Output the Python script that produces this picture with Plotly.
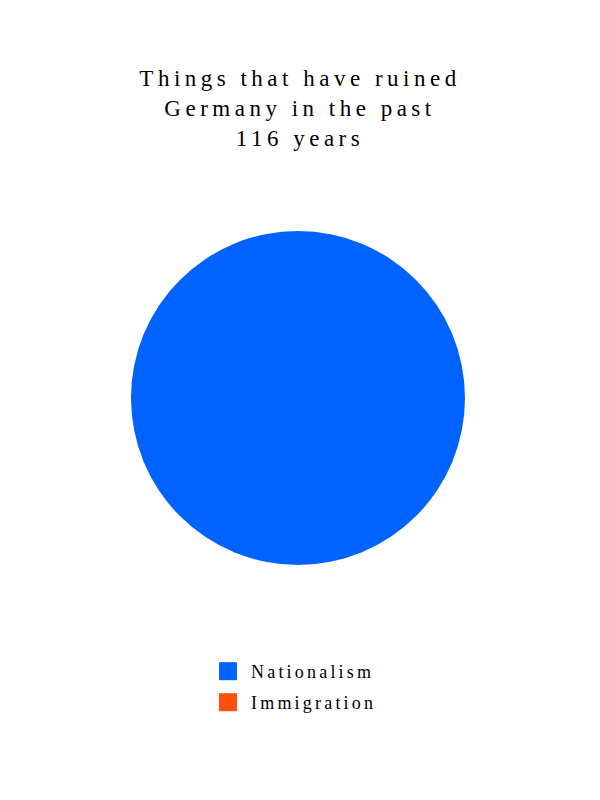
import plotly.graph_objects as go

labels = ["Nationalism", "Immigration"]
values = [100, 0]
colors = ["#0062FF", "#FF4F0F"]
title_lines = ["Things that have ruined", "Germany in the past", "116 years"]

fig = go.Figure(
    go.Pie(
        labels=labels,
        values=values,
        marker=dict(colors=colors, line=dict(width=0)),
        textinfo="none",
        hoverinfo="label+percent",
        sort=False,
        direction="clockwise",
        domain=dict(x=[0.2183, 0.775], y=[0.29375, 0.71125]),
        showlegend=True,
    )
)

fig.update_layout(
    width=600,
    height=800,
    margin=dict(l=0, r=0, t=0, b=0),
    paper_bgcolor="white",
    plot_bgcolor="white",
    font=dict(family="Liberation Serif, serif", color="#000000"),
    title=dict(
        text="<br>".join(title_lines),
        x=0.5,
        xanchor="center",
        y=1 - 86 / 800,
        yanchor="top",
        yref="container",
        font=dict(size=23, family="Liberation Serif, serif", color="#000000"),
    ),
    legend=dict(
        orientation="v",
        x=211 / 600,
        xanchor="left",
        y=(800 - 653) / 800,
        yanchor="top",
        font=dict(size=18, family="Liberation Serif, serif", color="#000000"),
        bgcolor="rgba(0,0,0,0)",
        tracegroupgap=0,
    ),
)

post = """
document.body.style.margin = '0';
var gd = document.getElementById('{plot_id}');
function styleText(){
  gd.querySelectorAll('.gtitle').forEach(function(t){ t.style.letterSpacing = '4.5px'; });
  gd.querySelectorAll('.legendtext').forEach(function(t){ t.style.letterSpacing = '3.2px'; });
  gd.querySelectorAll('.legend .scrollbox').forEach(function(s){ s.removeAttribute('clip-path'); });
  gd.querySelectorAll('.legend').forEach(function(s){ s.style.overflow = 'visible'; });
  gd.querySelectorAll('.legendpoints path').forEach(function(p){ p.setAttribute('d', 'M6,9H-12V-9H6Z'); });
  var tr = gd.querySelectorAll('.legend .traces');
  if (tr.length > 1) {
    var m = /translate\\(([-\\d.]+),\\s*([-\\d.]+)\\)/.exec(tr[0].getAttribute('transform'));
    if (m) {
      var x0 = parseFloat(m[1]), y0 = parseFloat(m[2]);
      tr.forEach(function(t, i){ t.setAttribute('transform', 'translate(' + x0 + ',' + (y0 + i * 31) + ')'); });
    }
  }
}
styleText();
gd.on('plotly_afterplot', styleText);
"""

fig.write_html("out.html", post_script=post, config={"displayModeBar": False})
